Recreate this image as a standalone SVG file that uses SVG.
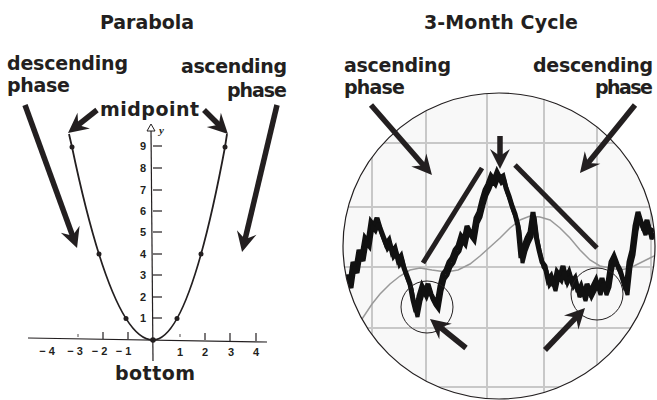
<svg xmlns="http://www.w3.org/2000/svg" width="657" height="400" viewBox="0 0 657 400">
<style>
.lbl{font-family:"DejaVu Sans","Open Sans",sans-serif;font-weight:700;font-size:19px;fill:#231f20}
.num{font-family:"Liberation Sans",Arial,sans-serif;font-weight:700;font-size:11px;fill:#231f20}
.arr{stroke:#231f20;stroke-width:5.5;fill:none;marker-end:url(#ah)}
.trend{stroke:#231f20;stroke-width:5;fill:none}
.tick{stroke:#231f20;stroke-width:1.2}
.grid{stroke:#c8c8c8;stroke-width:2}
.dot{fill:#231f20}
.price{fill:none;stroke:#111;stroke-linejoin:miter;stroke-miterlimit:3}
</style>
<defs>
<marker id="ah" markerUnits="userSpaceOnUse" markerWidth="30" markerHeight="30" viewBox="-15 -15 30 30" refX="0" refY="0" orient="auto" overflow="visible">
<path d="M8,0 L-12,-10 L-5,0 L-12,10 Z" fill="#231f20"/>
</marker>
<clipPath id="circ"><ellipse cx="499" cy="246" rx="156" ry="153"/></clipPath>
<polyline id="pricepts" points="344,300 347,275 350,283 353,262 356,268 359,250 362,256 365,238 368,242 371,222 374,226 377,218 380,228 383,236 386,244 389,240 392,252 395,248 398,260 401,256 404,268 407,276 410,284 413,300 416,312 419,296 422,286 425,292 428,284 431,294 434,300 437,304 440,286 443,274 446,270 449,262 452,258 455,250 458,246 461,236 464,240 467,226 470,232 473,236 476,218 479,212 482,200 485,190 488,184 491,176 494,180 497,172 500,178 503,176 506,188 509,196 512,206 515,214 518,226 521,258 524,246 527,238 530,232 533,212 536,236 539,250 542,262 545,266 548,280 551,276 554,286 557,272 560,276 563,266 566,278 569,272 572,282 575,278 578,292 581,286 584,296 587,284 590,292 593,286 596,280 599,290 602,278 605,290 608,282 611,262 614,256 617,264 620,270 623,280 626,290 629,262 632,250 635,226 638,212 641,222 644,230 647,220 650,234 653,228"/>
</defs>
<rect width="657" height="400" fill="#ffffff"/>

<!-- LEFT PANEL: parabola -->
<g id="parabola-title"><text class="lbl" x="100" y="29" textLength="94">Parabola</text></g>
<g id="left-descending-label"><text class="lbl" x="7" y="70" textLength="121">descending</text><text class="lbl" x="7" y="92" textLength="63">phase</text></g>
<g id="left-ascending-label"><text class="lbl" x="181" y="73" textLength="106">ascending</text><text class="lbl" x="227" y="97" textLength="60">phase</text></g>
<g id="left-midpoint-label"><text class="lbl" x="100" y="116" textLength="99">midpoint</text></g>
<g id="left-bottom-label"><text class="lbl" x="115" y="380" textLength="80">bottom</text></g>

<g id="parabola-graph">
<line x1="28" y1="338" x2="267" y2="342" class="tick"/>
<line x1="151" y1="129" x2="153" y2="361" class="tick"/>
<polygon points="151,124 147,131 155,131" fill="#fff" stroke="#231f20" stroke-width="1"/>
<text x="159" y="134" font-family="Liberation Serif,serif" font-style="italic" font-weight="700" font-size="11" fill="#231f20">y</text>
<g class="tick">
<line x1="153" y1="146" x2="162" y2="146"/><line x1="153" y1="168" x2="162" y2="168"/><line x1="153" y1="190" x2="162" y2="190"/>
<line x1="153" y1="211" x2="162" y2="211"/><line x1="153" y1="232" x2="162" y2="232"/><line x1="153" y1="254" x2="162" y2="254"/>
<line x1="153" y1="275" x2="162" y2="275"/><line x1="153" y1="297" x2="162" y2="297"/><line x1="153" y1="318" x2="162" y2="318"/>
<line x1="78" y1="334" x2="78" y2="337" stroke-width="0.8"/><line x1="103" y1="332" x2="103" y2="339"/><line x1="128" y1="332" x2="128" y2="339"/>
<line x1="180" y1="334" x2="180" y2="337" stroke-width="0.8"/><line x1="205" y1="333" x2="205" y2="340"/><line x1="230" y1="333" x2="230" y2="341"/><line x1="256" y1="333" x2="256" y2="341"/>
</g>
<g class="num" text-anchor="end">
<text x="146" y="150">9</text><text x="146" y="172">8</text><text x="146" y="194">7</text><text x="146" y="215">6</text><text x="146" y="236">5</text>
<text x="146" y="258">4</text><text x="146" y="279">3</text><text x="146" y="301">2</text><text x="146" y="322">1</text>
</g>
<g class="num" text-anchor="middle">
<text x="47" y="355">− 4</text><text x="75" y="355">− 3</text><text x="99.5" y="355">− 2</text><text x="123.5" y="355">− 1</text>
<text x="180" y="356">1</text><text x="205" y="356">2</text><text x="231" y="356">3</text><text x="256" y="356">4</text>
</g>
<path d="M69,134 L72,147 Q112.5,340 153,340 Q189,340 225,147 L227,134" fill="none" stroke="#231f20" stroke-width="1.8"/>
<circle class="dot" cx="72" cy="147" r="2.5"/><circle class="dot" cx="99" cy="254" r="2.5"/><circle class="dot" cx="126" cy="318.6" r="2.5"/>
<circle class="dot" cx="153" cy="340" r="2.8"/><circle class="dot" cx="177" cy="318.6" r="2.5"/><circle class="dot" cx="201" cy="254" r="2.5"/><circle class="dot" cx="225" cy="147" r="2.5"/>
</g>

<!-- RIGHT PANEL: 3-month cycle -->
<g id="cycle-title"><text class="lbl" x="424" y="29" textLength="154">3-Month Cycle</text></g>
<g id="right-ascending-label"><text class="lbl" x="344" y="72" textLength="107">ascending</text><text class="lbl" x="344" y="94" textLength="61">phase</text></g>
<g id="right-descending-label"><text class="lbl" x="533" y="72" textLength="120">descending</text><text class="lbl" x="595" y="94" textLength="58">phase</text></g>
<g id="right-midpoint-label"><text class="lbl" x="449" y="126" textLength="100">midpoint</text></g>
<g id="cycle-bottoms-label"><text class="lbl" x="475" y="352" textLength="52">cycle</text><text class="lbl" x="458" y="375" textLength="88">bottoms</text></g>

<g id="cycle-chart">
<ellipse cx="499" cy="246" rx="156" ry="153" fill="#f8f8f8"/>
<g clip-path="url(#circ)">
<g class="grid">
<line x1="372" y1="80" x2="372" y2="400"/><line x1="426" y1="80" x2="426" y2="400"/><line x1="487" y1="80" x2="487" y2="400"/>
<line x1="544" y1="80" x2="544" y2="400"/><line x1="597" y1="80" x2="597" y2="400"/><line x1="651" y1="80" x2="651" y2="400"/>
<line x1="340" y1="143" x2="657" y2="143"/><line x1="340" y1="207" x2="657" y2="207"/><line x1="340" y1="267" x2="657" y2="267"/>
<line x1="340" y1="328" x2="657" y2="328"/><line x1="340" y1="387" x2="657" y2="387"/>
</g>
<polyline fill="none" stroke="#9a9a9a" stroke-width="1.5" points="356,328 364,316 372,304 380,294 390,284 400,276 410,270 420,268 432,270 446,272 458,270 470,264 480,256 490,247 500,238 510,228 520,220 530,216 540,217 550,220 560,228 570,238 580,250 590,260 600,266 610,268 620,270 630,268 640,263 650,258 656,255"/>
<use href="#pricepts" class="price" stroke-width="5"/>
<use href="#pricepts" class="price" stroke-width="4" transform="translate(1.5,5)"/>
</g>
<ellipse cx="499" cy="246" rx="156" ry="153" fill="none" stroke="#231f20" stroke-width="1.2"/>
<circle cx="427" cy="307" r="26" fill="none" stroke="#231f20" stroke-width="1"/>
<circle cx="597" cy="294" r="26" fill="none" stroke="#231f20" stroke-width="1"/>
</g>

<g id="connectors">
<line class="arr" x1="25" y1="105" x2="74.3" y2="240.5"/>
<line class="arr" x1="97" y1="110" x2="74.3" y2="128"/>
<line class="arr" x1="204" y1="110" x2="222.3" y2="128.3"/>
<line class="arr" x1="277" y1="105" x2="243.9" y2="244.2"/>
<line class="arr" x1="371" y1="105" x2="426.7" y2="169"/>
<line class="arr" x1="500" y1="136" x2="500" y2="161"/>
<line class="arr" x1="635" y1="105" x2="585" y2="166.8"/>
<line class="arr" x1="466" y1="348" x2="436.2" y2="324"/>
<line class="arr" x1="545" y1="350" x2="579.5" y2="313.8"/>
<line class="trend" x1="423" y1="263" x2="482" y2="168"/>
<line class="trend" x1="515" y1="165" x2="597" y2="248"/>
</g>
</svg>
